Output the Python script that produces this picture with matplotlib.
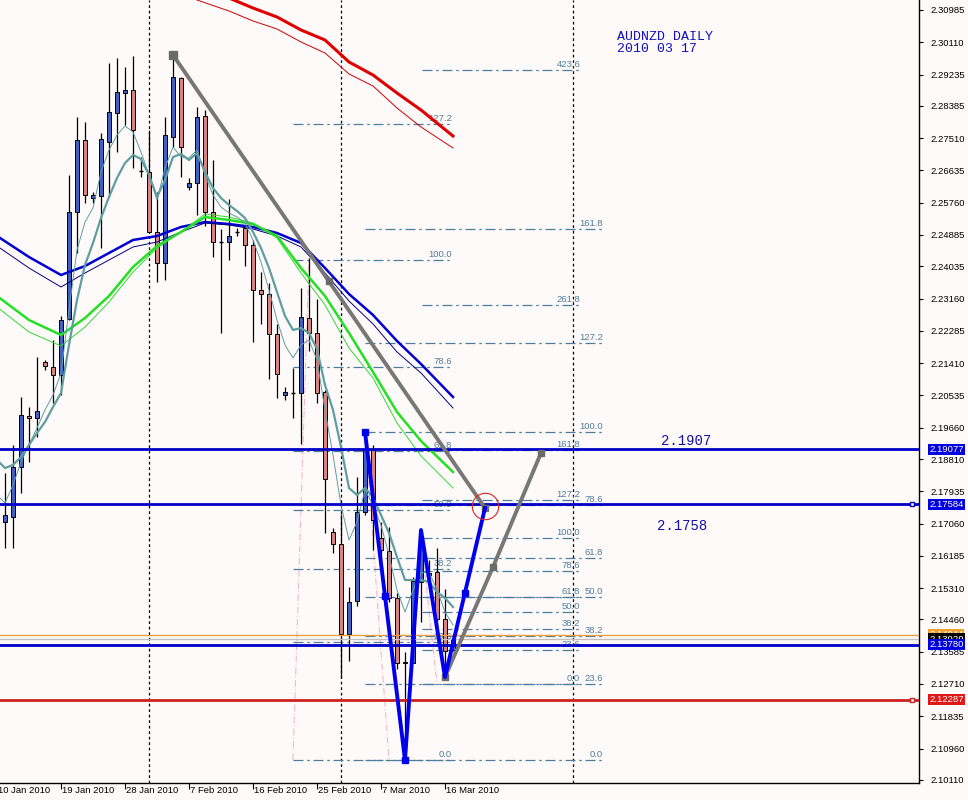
import matplotlib
matplotlib.use("Agg")
import matplotlib.pyplot as plt
import matplotlib.transforms as mtransforms

plt.rcParams['font.family'] = ['Liberation Sans', 'DejaVu Sans']

# daily candles, bar 0 = 11 Jan 2010 ... bar 56 = 17 Mar 2010
opens = [2.17102, 2.17238, 2.18593, 2.19976, 2.19922, 2.21440, 2.21305, 2.21088,
         2.22606, 2.25508, 2.27460, 2.25887, 2.25941, 2.27406, 2.28192, 2.28734,
         2.28816, 2.26619, 2.26592, 2.24965, 2.24125, 2.27541, 2.29141, 2.26185,
         2.26294, 2.28111, 2.25508, 2.24694, 2.24694, 2.24965, 2.25074, 2.24613,
         2.23393, 2.23284, 2.22200, 2.20546, 2.20600, 2.20600, 2.22633, 2.22227,
         2.20627, 2.16831, 2.16505, 2.14065, 2.14960, 2.17373, 2.19054, 2.16668,
         2.16316, 2.15041, 2.13279, 2.13279, 2.15475, 2.15665, 2.15746, 2.14472,
         2.13631]
highs = [2.18431, 2.19190, 2.20491, 2.20220, 2.21576, 2.21495, 2.22037, 2.22688,
         2.26511, 2.28084, 2.27948, 2.26050, 2.27650, 2.29548, 2.29683, 2.29439,
         2.29738, 2.26999, 2.27731, 2.26050, 2.28084, 2.29792, 2.29168, 2.26430,
         2.28355, 2.28273, 2.26918, 2.25047, 2.25860, 2.25074, 2.25074, 2.24748,
         2.23881, 2.23582, 2.22471, 2.20762, 2.21278, 2.23447, 2.24260, 2.23149,
         2.20681, 2.16939, 2.17319, 2.15339, 2.18322, 2.19542, 2.19190, 2.17102,
         2.16966, 2.15177, 2.13577, 2.15611, 2.16885, 2.16072, 2.16397, 2.15285,
         2.13930]
lows = [2.16397, 2.16397, 2.17888, 2.18729, 2.19407, 2.21223, 2.20329, 2.20546,
        2.22579, 2.24396, 2.25752, 2.25752, 2.24531, 2.25914, 2.27135, 2.27867,
        2.26701, 2.26457, 2.24938, 2.23610, 2.23664, 2.27270, 2.26457, 2.26104,
        2.25426, 2.25128, 2.24287, 2.22227, 2.24206, 2.24857, 2.24043, 2.21983,
        2.22471, 2.20979, 2.20464, 2.20410, 2.19922, 2.19217, 2.21739, 2.20329,
        2.16804, 2.16261, 2.12872, 2.13333, 2.14824, 2.17292, 2.16343, 2.16072,
        2.14933, 2.13116, 2.10649, 2.13279, 2.14390, 2.15529, 2.14255, 2.12899,
        2.13604]
closes = [2.17292, 2.18593, 2.20003, 2.19922, 2.20112, 2.21332, 2.21088, 2.22579,
          2.25508, 2.27460, 2.25969, 2.25969, 2.27487, 2.28219, 2.28761, 2.28816,
          2.27731, 2.26619, 2.24965, 2.24125, 2.27595, 2.29168, 2.27270, 2.26294,
          2.28084, 2.25508, 2.24694, 2.24694, 2.24857, 2.24965, 2.24613, 2.23393,
          2.23284, 2.22200, 2.21115, 2.20627, 2.20600, 2.22661, 2.22227, 2.20600,
          2.18268, 2.16505, 2.14065, 2.14933, 2.17373, 2.19054, 2.17156, 2.16343,
          2.15041, 2.13279, 2.13306, 2.15502, 2.16424, 2.15719, 2.14472, 2.13604,
          2.13930]

# moving averages
teal_bars = list(range(-1, 57))
teal_thick = [2.18783, 2.18566, 2.18648, 2.18864, 2.19190, 2.19515, 2.19813, 2.20220,
              2.20600, 2.21901, 2.23121, 2.24071, 2.24667, 2.25345, 2.25914, 2.26430,
              2.26836, 2.27053, 2.26945, 2.26511, 2.25914, 2.26375, 2.26999, 2.27080,
              2.26918, 2.27107, 2.26592, 2.26158, 2.25887, 2.25697, 2.25535, 2.25345,
              2.24965, 2.24531, 2.23989, 2.23338, 2.22688, 2.22308, 2.22362, 2.22227,
              2.21793, 2.20817, 2.20139, 2.19136, 2.18024, 2.17834, 2.18024, 2.17780,
              2.17292, 2.16804, 2.16153, 2.15529, 2.15529, 2.15529, 2.15475, 2.15204,
              2.15041, 2.14797]
teal_thin = [2.17834, 2.17617, 2.18105, 2.18729, 2.19190, 2.19651, 2.20139, 2.20546,
             2.21142, 2.22850, 2.24477, 2.25236, 2.25616, 2.26592, 2.27189, 2.27595,
             2.27840, 2.27677, 2.27135, 2.26511, 2.25833, 2.26701, 2.27270, 2.26999,
             2.26972, 2.27189, 2.26511, 2.25969, 2.25643, 2.25481, 2.25372, 2.25209,
             2.24748, 2.24152, 2.23393, 2.22579, 2.21901, 2.21549, 2.21901, 2.22037,
             2.21495, 2.20139, 2.18919, 2.17563, 2.16614, 2.17102, 2.17970, 2.17563,
             2.17021, 2.16207, 2.15258, 2.14662, 2.15258, 2.15719, 2.15746, 2.15258,
             2.14662, 2.14309]

ma_bars = [-1, 3, 7, 10, 13, 16, 19, 22, 25, 28, 31, 34, 37, 40, 43, 46, 49, 52, 56]
blue_thick = [2.24857, 2.24287, 2.23799, 2.24043, 2.24396, 2.24748, 2.24857, 2.25101,
              2.25236, 2.25182, 2.25101, 2.24938, 2.24667, 2.23989, 2.23284, 2.22715,
              2.22010, 2.21386, 2.20491]
blue_thin = [2.24586, 2.23989, 2.23474, 2.23854, 2.24206, 2.24559, 2.24694, 2.24965,
             2.25209, 2.25155, 2.25047, 2.24857, 2.24559, 2.23854, 2.23094, 2.22471,
             2.21712, 2.21142, 2.20193]
green_thick = [2.23230, 2.22579, 2.22172, 2.22633, 2.23230, 2.24016, 2.24586, 2.24965,
               2.25372, 2.25291, 2.25182, 2.24857, 2.23989, 2.23230, 2.22227, 2.21169,
               2.20085, 2.19298, 2.18458]
green_thin = [2.22932, 2.22254, 2.21874, 2.22389, 2.23067, 2.23881, 2.24531, 2.24965,
              2.25453, 2.25372, 2.25209, 2.24803, 2.23854, 2.22986, 2.21820, 2.21007,
              2.19786, 2.18892, 2.18024]

red_bars = [20, 24, 28, 31, 34, 37, 40, 43, 46, 49, 52, 56]
red_thick = [2.32341, 2.31744, 2.31310, 2.31039, 2.30795, 2.30443, 2.30171, 2.29575,
             2.29222, 2.28734, 2.28273, 2.27568]
red_thin = [2.31798, 2.31256, 2.30958, 2.30687, 2.30470, 2.30117, 2.29819, 2.29250,
            2.28924, 2.28328, 2.27812, 2.27243]

# axis
date_bars = [-1, 7, 15, 23, 31, 39, 47, 55]
date_labels = ['10 Jan 2010', '19 Jan 2010', '28 Jan 2010', '7 Feb 2010',
               '16 Feb 2010', '25 Feb 2010', '7 Mar 2010', '16 Mar 2010']
price_ticks = [2.30985, 2.30110, 2.29235, 2.28385, 2.27510, 2.26635, 2.25760,
               2.24885, 2.24035, 2.23160, 2.22285, 2.21410, 2.20535, 2.19660,
               2.18810, 2.17935, 2.17060, 2.16185, 2.15310, 2.14460, 2.13585,
               2.12710, 2.11835, 2.10960, 2.10110]
sep_bars = [18, 42, 71]

# horizontal price lines
hline_prices = [2.19077, 2.17584, 2.14044, 2.13929, 2.13780, 2.12287]
hline_colors = ['#0000c8', '#0000c8', '#e8a040', '#c0c0c0', '#0000c8', '#cc2020']
hline_widths = [2.0, 2.0, 1.0, 1.0, 2.0, 2.0]
hline_tags = ['#0000e0', '#0000e0', '#f0a030', '#000000', '#0000e0', '#e01818']

# fibonacci objects
fibL_labels = ['127.2', '100.0', '78.6', '61.8', '50.0', '38.2', '23.6', '0.0']
fibL_prices = [2.27894, 2.24206, 2.21305, 2.19027, 2.17427, 2.15828, 2.13848, 2.10649]
fibL_span = (36, 55.9)
fibL_diag = ([36, 38], [2.10649, 2.24260])
fibM_labels = ['423.6', '261.8', '161.8', '127.2', '100.0', '78.6', '61.8', '50.0',
               '38.2', '23.6', '0.0']
fibM_prices = [2.29358, 2.22986, 2.19054, 2.17698, 2.16668, 2.15773, 2.15068, 2.14662,
               2.14201, 2.13631, 2.12709]
fibM_span = (52.1, 71.9)
fibM_diag = ([52, 54], [2.16668, 2.12709])
fibR_labels = ['161.8', '127.2', '100.0', '78.6', '61.8', '50.0', '38.2', '23.6', '0.0']
fibR_prices = [2.25047, 2.21956, 2.19542, 2.17563, 2.16126, 2.15068, 2.14011, 2.12709,
               2.10649]
fibR_span = (45, 74.75)
fibR_diag = ([45, 48], [2.19542, 2.10649])

# pattern lines
blue_zz_bars = [45, 50, 52, 55, 60]
blue_zz_prices = [2.19542, 2.10649, 2.16885, 2.12899, 2.17482]
blue_mid_bars = [47.5, 57.5]
blue_mid_prices = [2.15095, 2.15177]
gray1_bars = [21, 60]
gray1_prices = [2.29765, 2.17482]
gray1_mid = (40.5, 2.23624)
gray2_bars = [55, 61, 67]
gray2_prices = [2.12899, 2.15882, 2.18973]
target = (60, 2.17536)

bg = '#fffafa'
fib_col = '#4d7d9d'

fig = plt.figure(figsize=(9.68, 8.0), dpi=100, facecolor=bg)
ax = fig.add_axes([0, 17 / 800, 919 / 968, 783 / 800])
ax.set_facecolor(bg)
ax.set_xlim(-0.625, 114.25)
ax.set_ylim(2.10025, 2.31256)

for s in ['left', 'top']:
    ax.spines[s].set_visible(False)
for s in ['bottom', 'right']:
    ax.spines[s].set_linewidth(1.0)

# period separators
for b in sep_bars:
    ax.axvline(b, color='black', lw=0.9, dashes=(2.2, 2.2), zorder=1)

# fibo levels
for labels, prices, span, diag in [
        (fibL_labels, fibL_prices, fibL_span, fibL_diag),
        (fibM_labels, fibM_prices, fibM_span, fibM_diag),
        (fibR_labels, fibR_prices, fibR_span, fibR_diag)]:
    ax.plot(diag[0], diag[1], color='#f2b8c6', lw=0.8, dashes=(6, 2, 1, 2), zorder=1)
    for lab, p in zip(labels, prices):
        ax.plot(span, [p, p], color=fib_col, lw=0.9, dashes=(8, 3, 2, 3), zorder=2)
        ax.annotate(lab, (span[1], p), xytext=(0, 1), textcoords='offset pixels',
                    ha='right', va='bottom', fontsize=6.8, color=fib_col, zorder=2)

# candles
for b, (o, h, l, c) in enumerate(zip(opens, highs, lows, closes)):
    ax.vlines(b, l, h, color='black', lw=0.9, zorder=3)
    if c == o:
        ax.hlines(o, b - 0.31, b + 0.31, color='black', lw=1.0, zorder=3)
    else:
        ax.bar(b, abs(c - o), 0.62, bottom=min(o, c),
               color='#3f62c2' if c > o else '#d98282',
               edgecolor='black', lw=0.7, zorder=3)

# moving averages
ax.plot(red_bars, red_thick, color='#e00000', lw=2.2, zorder=4)
ax.plot(red_bars, red_thin, color='#d00000', lw=0.7, zorder=4)
ax.plot(ma_bars, blue_thick, color='#0000d0', lw=1.8, zorder=4)
ax.plot(ma_bars, blue_thin, color='#000080', lw=0.7, zorder=4)
ax.plot(ma_bars, green_thick, color='#22e022', lw=1.8, zorder=4)
ax.plot(ma_bars, green_thin, color='#33d833', lw=0.7, zorder=4)
ax.plot(teal_bars, teal_thick, color='#5f9ea0', lw=1.6, zorder=4)
ax.plot(teal_bars, teal_thin, color='#5f9ea0', lw=0.7, zorder=4)

# horizontal lines
for p, col, w in zip(hline_prices, hline_colors, hline_widths):
    ax.axhline(p, color=col, lw=w, zorder=5)
ax.plot([113.4], [2.17584], ls='none', marker='s', ms=3.5,
        mfc='white', mec='#0000c8', mew=1.0, zorder=6)
ax.plot([113.4], [2.12287], ls='none', marker='s', ms=3.5,
        mfc='white', mec='#cc2020', mew=1.0, zorder=6)

# pattern lines
ax.plot(gray1_bars, gray1_prices, color='#777777', lw=2.8, zorder=6,
        solid_capstyle='butt')
ax.plot(gray2_bars, gray2_prices, color='#777777', lw=2.8, zorder=6)
ax.plot(gray1_bars[:1], gray1_prices[:1], 's', color='#6a6a6a', ms=6, zorder=7)
ax.plot([gray1_mid[0], gray1_bars[1]], [gray1_mid[1], gray1_prices[1]], 's',
        color='#6a6a6a', ms=4.5, zorder=7)
ax.plot(gray2_bars, gray2_prices, 's', color='#6a6a6a', ms=4.5, zorder=7)
ax.plot(blue_zz_bars, blue_zz_prices, color='#0000ee', lw=2.8, zorder=8)
ax.plot(blue_zz_bars[:2], blue_zz_prices[:2], 's', color='#0000ee', ms=5, zorder=8)
ax.plot(blue_mid_bars, blue_mid_prices, 's', color='#0000ee', ms=4, zorder=8)
ax.plot(*target, 'o', ms=19, mfc='none', mec='#dd2222', mew=0.8, zorder=9)

# axes ticks
ax.yaxis.tick_right()
ax.set_yticks(price_ticks, [f'{p:.5f}' for p in price_ticks])
ax.tick_params(axis='y', direction='out', length=3, width=0.8, pad=5,
               labelsize=6.8, colors='black')
ax.set_xticks(date_bars[1:])
ax.tick_params(axis='x', direction='out', length=4, width=0.8, labelbottom=False)

xtrans = mtransforms.offset_copy(ax.get_xaxis_transform(), fig=fig, x=1, y=-3,
                                 units='dots')
for b, lab in zip(date_bars, date_labels):
    ax.text(b, 0, lab, transform=xtrans, ha='left', va='top', fontsize=6.8,
            clip_on=False)

ytrans = mtransforms.offset_copy(ax.get_yaxis_transform(), fig=fig, x=10, y=0,
                                 units='dots')
for p, col in zip(hline_prices, hline_tags):
    ax.text(1.0, p, f'{p:.5f}', transform=ytrans, ha='left', va='center',
            fontsize=6.8, color='white', clip_on=False, zorder=10,
            bbox=dict(boxstyle='square,pad=0.12', fc=col, ec='none'))

# text objects
mono = ['Liberation Mono', 'DejaVu Sans Mono']
fig.text(617 / 968, 1 - 31 / 800, 'AUDNZD DAILY\n2010 03 17', ha='left', va='top',
         fontsize=9.5, color='#1010c0', family=mono, linespacing=1.05)
fig.text(661 / 968, 1 - 441 / 800, '2.1907', ha='left', va='center',
         fontsize=10, color='#1010a8', family=mono)
fig.text(657 / 968, 1 - 526 / 800, '2.1758', ha='left', va='center',
         fontsize=10, color='#1010a8', family=mono)

fig.savefig('out.png', dpi=100, facecolor=bg)
